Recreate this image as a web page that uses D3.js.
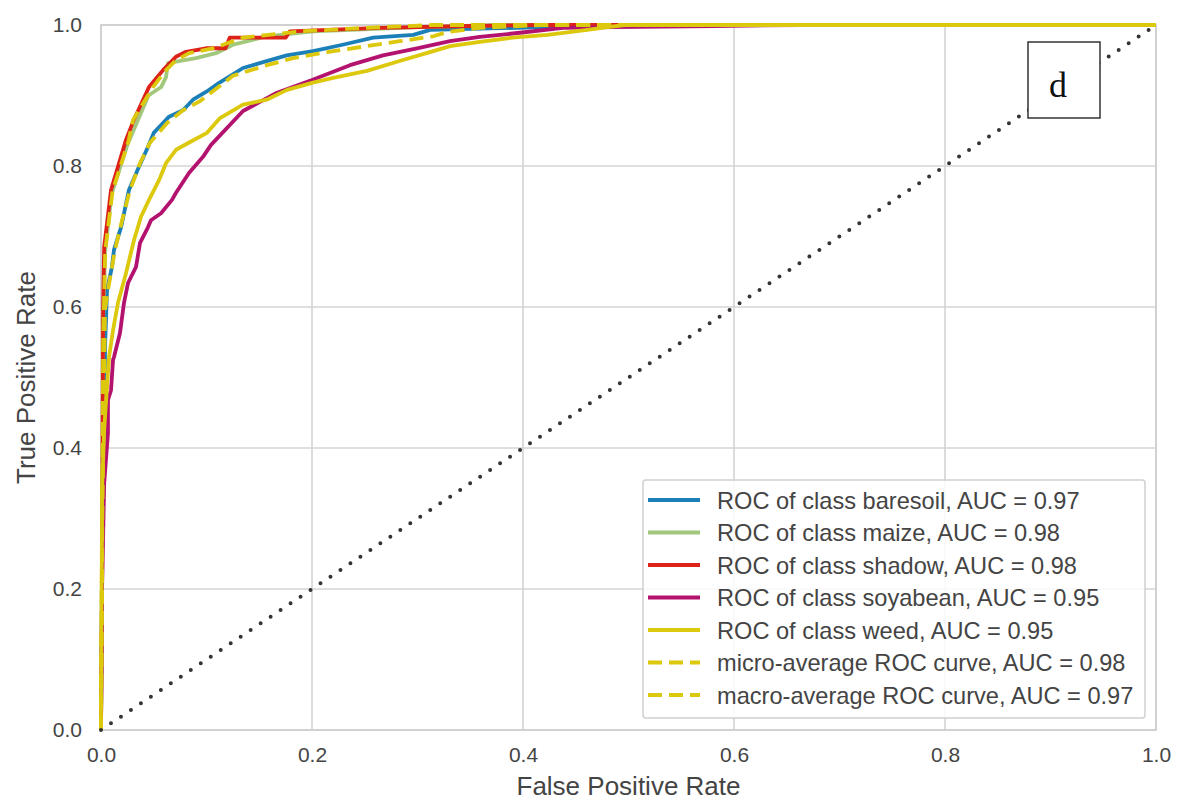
<!DOCTYPE html>
<html>
<head>
<meta charset="utf-8">
<script src="https://cdn.jsdelivr.net/npm/d3@7"></script>
<style>
  html, body { margin: 0; padding: 0; background: #ffffff; }
  svg { display: block; }
</style>
</head>
<body>
<svg id="chart" width="1177" height="802"></svg>
<script>
// ---- data ----
const tickValues = [0.0, 0.2, 0.4, 0.6, 0.8, 1.0];
const xAxisTitle = "False Positive Rate";
const yAxisTitle = "True Positive Rate";
const panelLabel = "d";

const seriesNames = ["baresoil", "maize", "shadow", "soyabean", "weed", "micro", "macro"];
const legendLabels = [
  "ROC of class baresoil, AUC = 0.97",
  "ROC of class maize, AUC = 0.98",
  "ROC of class shadow, AUC = 0.98",
  "ROC of class soyabean, AUC = 0.95",
  "ROC of class weed, AUC = 0.95",
  "micro-average ROC curve, AUC = 0.98",
  "macro-average ROC curve, AUC = 0.97"
];

// each series: [fpr, tpr] pairs
const baresoil = [
  [0,0],[0.001,0.25],[0.004,0.55],[0.0057,0.624],[0.0104,0.657],[0.0123,0.681],[0.019,0.713],
  [0.0265,0.766],[0.036,0.799],[0.0445,0.827],[0.05,0.847],[0.0588,0.861],[0.0645,0.87],
  [0.0777,0.879],[0.0872,0.894],[0.0995,0.905],[0.112,0.918],[0.1346,0.939],[0.176,0.957],
  [0.201,0.963],[0.229,0.972],[0.258,0.982],[0.296,0.986],[0.312,0.993],[0.419,0.997],
  [0.435,1],[1,1]
];
const maize = [
  [0,0],[0.001,0.18],[0.002,0.58],[0.004,0.68],[0.01,0.76],[0.025,0.83],[0.045,0.9],
  [0.057,0.912],[0.0616,0.926],[0.0635,0.946],[0.071,0.948],[0.09,0.953],[0.109,0.96],
  [0.125,0.972],[0.157,0.984],[0.201,0.991],[0.302,0.997],[0.378,1],[1,1]
];
const shadow = [
  [0,0],[0.001,0.184],[0.002,0.596],[0.003,0.685],[0.0095,0.766],[0.0237,0.837],[0.031,0.865],
  [0.0455,0.912],[0.0588,0.936],[0.071,0.955],[0.0806,0.962],[0.0995,0.967],[0.118,0.967],
  [0.122,0.982],[0.175,0.982],[0.179,0.991],[0.264,0.996],[0.35,0.9986],[0.416,1],[1,1]
];
const soyabean = [
  [0,0],[0.001,0.2],[0.003,0.35],[0.0066,0.421],[0.0066,0.468],[0.0095,0.482],[0.0114,0.525],
  [0.0123,0.529],[0.018,0.563],[0.0218,0.606],[0.0256,0.634],[0.0332,0.657],[0.037,0.691],
  [0.0445,0.713],[0.0474,0.723],[0.0569,0.733],[0.0673,0.752],[0.0711,0.762],[0.0834,0.79],
  [0.0967,0.813],[0.1043,0.83],[0.1346,0.878],[0.1668,0.904],[0.2,0.922],[0.236,0.943],
  [0.2673,0.957],[0.2995,0.967],[0.3308,0.977],[0.359,0.983],[0.397,0.989],[0.438,0.996],
  [0.485,0.997],[0.58,0.9986],[0.663,1],[1,1]
];
const weed = [
  [0,0],[0,0.043],[0.001,0.3],[0.001,0.34],[0.003,0.426],[0.0076,0.529],[0.0114,0.567],
  [0.0161,0.606],[0.0237,0.648],[0.0313,0.695],[0.0379,0.728],[0.0455,0.752],[0.055,0.78],
  [0.0616,0.804],[0.0711,0.823],[0.0844,0.834],[0.1005,0.847],[0.1128,0.868],[0.1346,0.887],
  [0.157,0.894],[0.1763,0.908],[0.2,0.918],[0.22,0.925],[0.252,0.935],[0.283,0.949],
  [0.315,0.963],[0.331,0.97],[0.359,0.976],[0.39,0.982],[0.423,0.986],[0.461,0.993],
  [0.48,0.997],[0.497,1],[1,1]
];
const micro = [
  [0,0],[0.001,0.2],[0.002,0.55],[0.004,0.68],[0.011,0.765],[0.026,0.835],[0.0303,0.865],
  [0.0493,0.912],[0.0616,0.936],[0.0711,0.95],[0.0834,0.96],[0.106,0.967],[0.1346,0.982],
  [0.1886,0.991],[0.252,0.996],[0.315,1],[1,1]
];
const macro = [
  [0,0],[0.001,0.3],[0.003,0.5],[0.0038,0.596],[0.0066,0.624],[0.0133,0.681],[0.02,0.723],
  [0.0275,0.766],[0.037,0.804],[0.0464,0.833],[0.0626,0.861],[0.0777,0.879],[0.0938,0.892],
  [0.1251,0.928],[0.1573,0.943],[0.182,0.953],[0.22,0.963],[0.252,0.97],[0.283,0.977],
  [0.315,0.984],[0.328,0.99],[0.359,0.996],[0.416,1],[1,1]
];
const diagonal = [[0,0],[1,1]];

// ---- styling ----
const colors = {
  baresoil: "#1b7fb8", maize: "#a2c87c", shadow: "#dc2219",
  soyabean: "#b3126e", weed: "#dcc80c", micro: "#dcc80c", macro: "#dcc80c"
};
const dashes = { micro: "14 7", macro: "14 7" };
const seriesData = { baresoil, maize, shadow, soyabean, weed, micro, macro };
const sans = "'Liberation Sans', Arial, sans-serif";
const textColor = "#444444";

const svg = d3.select("#chart");
const pLeft = 101, pRight = 1156, pTop = 25, pBottom = 730;
const x = d3.scaleLinear().domain([0, 1]).range([pLeft, pRight]);
const y = d3.scaleLinear().domain([0, 1]).range([pBottom, pTop]);

// grid
const grid = svg.append("g");
grid.selectAll("line.v").data(tickValues).join("line").attr("class", "v")
  .attr("x1", d => x(d)).attr("x2", d => x(d)).attr("y1", pTop).attr("y2", pBottom)
  .attr("stroke", "#d4d4d4").attr("stroke-width", 1.6);
grid.selectAll("line.h").data(tickValues).join("line").attr("class", "h")
  .attr("y1", d => y(d)).attr("y2", d => y(d)).attr("x1", pLeft).attr("x2", pRight)
  .attr("stroke", "#d4d4d4").attr("stroke-width", 1.6);
svg.append("rect").attr("x", pLeft).attr("y", pTop).attr("width", pRight - pLeft).attr("height", pBottom - pTop)
  .attr("fill", "none").attr("stroke", "#d0d0d0").attr("stroke-width", 1.8);

// axes
const fmt = d3.format(".1f");
const xAxis = svg.append("g").attr("transform", `translate(0,${pBottom})`)
  .call(d3.axisBottom(x).tickValues(tickValues).tickFormat(fmt).tickSize(0).tickPadding(17));
const yAxis = svg.append("g").attr("transform", `translate(${pLeft},0)`)
  .call(d3.axisLeft(y).tickValues(tickValues).tickFormat(fmt).tickSize(0).tickPadding(19));
[xAxis, yAxis].forEach(a => {
  a.select(".domain").remove();
  a.selectAll("text").attr("font-size", 21).attr("fill", textColor).style("font-family", sans);
});

svg.append("text").attr("x", (pLeft + pRight) / 2).attr("y", 795)
  .attr("text-anchor", "middle").attr("font-size", 26).attr("fill", textColor)
  .style("font-family", sans).text(xAxisTitle);
svg.append("text").attr("transform", `translate(35,${(pTop + pBottom) / 2}) rotate(-90)`)
  .attr("text-anchor", "middle").attr("font-size", 26).attr("fill", textColor)
  .style("font-family", sans).text(yAxisTitle);

// curves
const line = d3.line().x(d => x(d[0])).y(d => y(d[1]));
const curves = svg.append("g");
seriesNames.forEach(name => {
  curves.append("path").datum(seriesData[name])
    .attr("d", line).attr("fill", "none")
    .attr("stroke", colors[name]).attr("stroke-width", 3.8)
    .attr("stroke-linejoin", "round")
    .attr("stroke-dasharray", dashes[name] || null);
});
curves.append("path").datum(diagonal).attr("d", line).attr("fill", "none")
  .attr("stroke", "#333333").attr("stroke-width", 4).attr("stroke-linecap", "round")
  .attr("stroke-dasharray", "0 12");

// legend
const lg = svg.append("g");
lg.append("rect").attr("x", 643).attr("y", 480).attr("width", 502).attr("height", 238)
  .attr("rx", 3).attr("fill", "#ffffff").attr("fill-opacity", 0.85)
  .attr("stroke", "#d0d0d0").attr("stroke-width", 1.5);
const rows = lg.selectAll("g.row").data(seriesNames).join("g").attr("class", "row")
  .attr("transform", (d, i) => `translate(0,${500 + i * 32.5})`);
rows.append("line").attr("x1", 648).attr("x2", 700).attr("y1", 0).attr("y2", 0)
  .attr("stroke", d => colors[d]).attr("stroke-width", 3.8)
  .attr("stroke-dasharray", d => dashes[d] || null);
rows.append("text").attr("x", 717).attr("y", 0).attr("dy", "0.36em")
  .attr("font-size", 23.6).attr("fill", textColor).style("font-family", sans)
  .text((d, i) => legendLabels[i]);

// panel label box
svg.append("rect").attr("x", 1028).attr("y", 42).attr("width", 72).attr("height", 76)
  .attr("fill", "#ffffff").attr("stroke", "#333333").attr("stroke-width", 1.5);
svg.append("text").attr("x", 1058).attr("y", 97).attr("text-anchor", "middle")
  .style("font-family", "'Liberation Serif', 'Times New Roman', serif")
  .attr("font-size", 36).attr("fill", "#111111").text(panelLabel);
</script>
</body>
</html>
